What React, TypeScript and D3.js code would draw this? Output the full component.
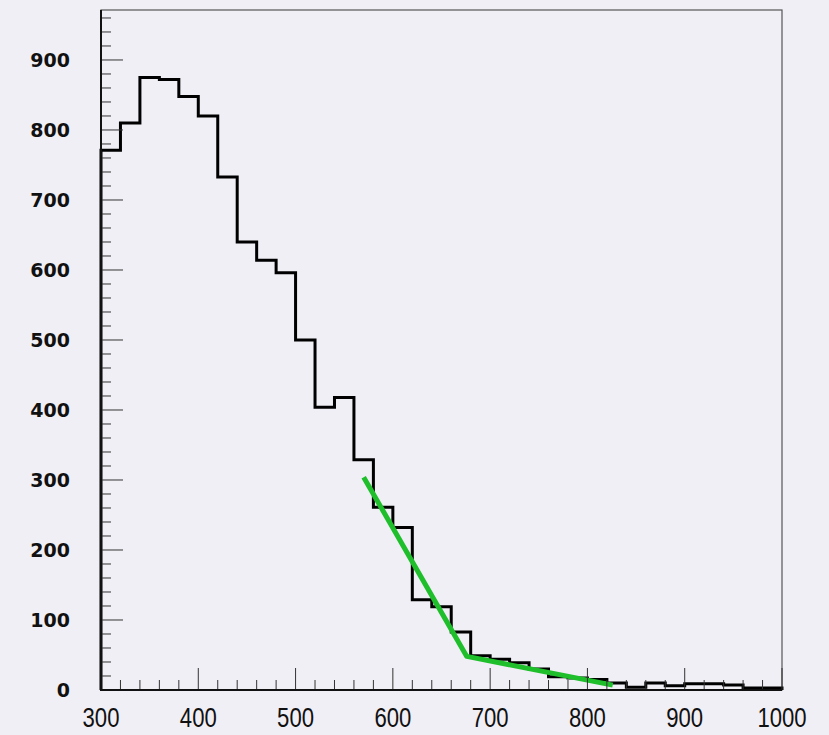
import React, { useEffect, useRef } from "react";
import * as d3 from "d3";

// histogram: 35 bins of width 20 from 300 to 1000
const binEdges = d3.range(300, 1001, 20);
const counts = [
  771, 810, 875, 872, 848, 820, 733, 640, 614, 596,
  500, 404, 418, 329, 261, 232, 129, 119, 83, 49,
  44, 39, 30, 19, 17, 15, 10, 4, 10, 6,
  9, 9, 7, 3, 3,
];

// fitted curve (green)
const fitX = [570, 676, 826];
const fitY = [304, 48, 7];

const xTickLabels = [300, 400, 500, 600, 700, 800, 900, 1000];
const yTickLabels = [0, 100, 200, 300, 400, 500, 600, 700, 800, 900];

const W = 829;
const H = 735;
const left = 101;
const right = 782;
const top = 10;
const bottom = 690;

const App = () => {
  const svgRef = useRef<SVGSVGElement>(null);

  useEffect(() => {
    const svg = d3.select(svgRef.current);
    svg.selectAll("*").remove();

    const x = d3.scaleLinear().domain([300, 1000]).range([left, right]);
    const y = d3.scaleLinear().domain([0, 971.4]).range([bottom, top]);

    svg
      .append("rect")
      .attr("width", W)
      .attr("height", H)
      .attr("fill", "#f0eff5");

    // frame
    svg
      .append("rect")
      .attr("x", left)
      .attr("y", top)
      .attr("width", right - left)
      .attr("height", bottom - top)
      .attr("fill", "none")
      .attr("stroke", "#555")
      .attr("stroke-width", 1.2);

    // histogram outline
    const pts: [number, number][] = [[x(300), y(0)]];
    counts.forEach((c, i) => {
      pts.push([x(binEdges[i]), y(c)]);
      pts.push([x(binEdges[i + 1]), y(c)]);
    });
    pts.push([x(1000), y(0)]);
    svg
      .append("path")
      .attr("d", d3.line()(pts))
      .attr("fill", "none")
      .attr("stroke", "#000")
      .attr("stroke-width", 3)
      .attr("stroke-linejoin", "miter");

    // fit
    const fitPts: [number, number][] = fitX.map((v, i) => [x(v), y(fitY[i])]);
    svg
      .append("path")
      .attr("d", d3.line()(fitPts))
      .attr("fill", "none")
      .attr("stroke", "#1fbf2c")
      .attr("stroke-width", 5)
      .attr("stroke-linejoin", "round");

    // y axis ticks
    const gy = svg.append("g");
    d3.range(0, 961, 20).forEach((v) => {
      const major = v % 100 === 0;
      gy.append("line")
        .attr("x1", left)
        .attr("x2", left + (major ? 22 : 10))
        .attr("y1", y(v))
        .attr("y2", y(v))
        .attr("stroke", "#333")
        .attr("stroke-width", 1);
    });
    gy.selectAll("text.yl")
      .data(yTickLabels)
      .enter()
      .append("text")
      .attr("x", 70)
      .attr("y", (d) => y(d))
      .attr("dy", "0.36em")
      .attr("text-anchor", "end")
      .attr("font-family", "DejaVu Sans")
      .attr("font-weight", "bold")
      .attr("font-size", 19)
      .attr("fill", "#111")
      .text((d) => d);

    // x axis ticks
    const gx = svg.append("g");
    d3.range(300, 1001, 20).forEach((v) => {
      const major = v % 100 === 0;
      gx.append("line")
        .attr("x1", x(v))
        .attr("x2", x(v))
        .attr("y1", bottom)
        .attr("y2", bottom - (major ? 22 : 10))
        .attr("stroke", "#333")
        .attr("stroke-width", 1);
    });
    const sx = 0.82;
    gx.selectAll("text.xl")
      .data(xTickLabels)
      .enter()
      .append("text")
      .attr("transform", `scale(${sx},1)`)
      .attr("x", (d) => x(d) / sx)
      .attr("y", 727)
      .attr("text-anchor", "middle")
      .attr("font-family", "Liberation Sans")
      .attr("font-size", 27)
      .attr("fill", "#111")
      .text((d) => d);

    // axis lines
    svg
      .append("line")
      .attr("x1", left)
      .attr("x2", left)
      .attr("y1", top)
      .attr("y2", bottom + 1)
      .attr("stroke", "#111")
      .attr("stroke-width", 2);
    svg
      .append("line")
      .attr("x1", left - 1)
      .attr("x2", right)
      .attr("y1", bottom)
      .attr("y2", bottom)
      .attr("stroke", "#111")
      .attr("stroke-width", 2);
  }, []);

  return (
    <svg
      ref={svgRef}
      width={W}
      height={H}
      style={{ position: "absolute", left: 0, top: 0, display: "block" }}
    />
  );
};

export default App;
